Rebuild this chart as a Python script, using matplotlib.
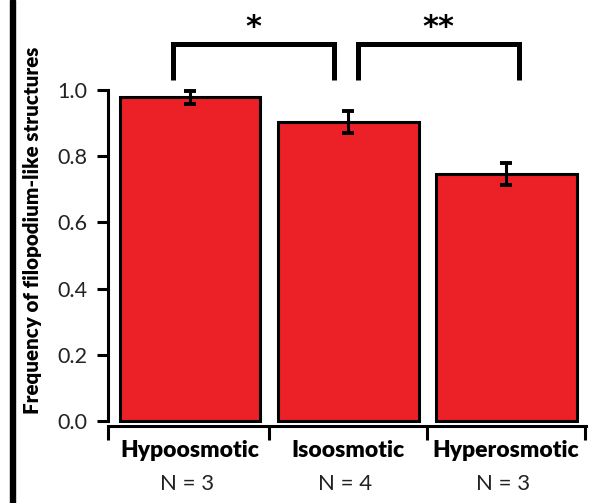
import matplotlib
matplotlib.use("Agg")
import matplotlib.pyplot as plt
from matplotlib.patches import Rectangle

# Data
categories = ["Hypoosmotic", "Isoosmotic", "Hyperosmotic"]
sample_sizes = ["N = 3", "N = 4", "N = 3"]
frequency = [0.978, 0.903, 0.747]
frequency_err = [0.02, 0.033, 0.033]
yticks = [0.0, 0.2, 0.4, 0.6, 0.8, 1.0]
ytick_labels = ["0.0", "0.2", "0.4", "0.6", "0.8", "1.0"]
# significance brackets: (x start, x end, label)
brackets = [(-0.11, 0.91, "*"), (1.06, 2.08, "**")]

plt.rcParams["font.family"] = ["Lato", "DejaVu Sans"]

W, H = 598, 503
fig = plt.figure(figsize=(W / 100, H / 100), dpi=100)

# axes placement in pixels
x_left, x_right = 108, 586
y0_px, y1_px = 421, 90          # pixel rows of y=0 and y=1
per_unit = y0_px - y1_px
ylo, yhi = -0.015, 1.25
ax_bottom_px = y0_px - ylo * per_unit
ax_top_px = y0_px - yhi * per_unit
ax_h_px = ax_bottom_px - ax_top_px
ax = fig.add_axes([x_left / W, (H - ax_bottom_px) / H,
                   (x_right - x_left) / W, ax_h_px / H])

red = "#EC2027"
x = list(range(len(categories)))
ax.bar(x, frequency, width=0.89, color=red, edgecolor="black", linewidth=2.2,
       zorder=2)
ax.errorbar(x, frequency, yerr=frequency_err, fmt="none", ecolor="black",
            elinewidth=2.2, capsize=4.5, capthick=2.8, zorder=3)

ax.set_xlim(-0.52, 2.505)
ax.set_ylim(ylo, yhi)

for s in ("top", "right"):
    ax.spines[s].set_visible(False)
for s in ("left", "bottom"):
    ax.spines[s].set_linewidth(2.2)
ax.spines["left"].set_bounds(0, 1.0)

ax.set_yticks(yticks)
ax.set_yticklabels(ytick_labels, fontsize=15.5, color="#222222")
ax.tick_params(axis="y", length=8, width=2.2, pad=7)

# group boundary ticks on the x axis, category names at the centres
ax.set_xticks([-0.52, 0.5, 1.5, 2.5])
ax.set_xticklabels([])
ax.tick_params(axis="x", which="major", length=10, width=2.2)
ax.set_xticks(x, minor=True)
ax.set_xticklabels(categories, minor=True, fontsize=16.5, fontweight="heavy")
ax.tick_params(axis="x", which="minor", length=0, pad=10)

for xi, n in zip(x, sample_sizes):
    ax.text(xi - 0.02, -0.19, n, ha="center", va="center", fontsize=16,
            color="#222222", transform=ax.transData, clip_on=False)

ax.set_ylabel("Frequency of filopodium-like structures", fontsize=14.8,
              fontweight="heavy")
ax.yaxis.set_label_coords((42 - x_left) / (x_right - x_left),
                          (ax_bottom_px - 230) / ax_h_px)

# significance brackets
for xs, xe, lab in brackets:
    ax.plot([xs, xs, xe, xe], [1.03, 1.14, 1.14, 1.03], color="black",
            lw=3.6, solid_joinstyle="miter", solid_capstyle="butt",
            clip_on=False, zorder=4)
    ax.text((xs + xe) / 2, 1.19, lab, ha="center", va="center",
            fontsize=22, fontweight="bold", family="DejaVu Sans")

# heavy rule along the left edge
fig.patches.append(Rectangle((10 / W, 0), 5 / W, 1, transform=fig.transFigure,
                             color="black", zorder=10))

fig.savefig("out.png", dpi=100)
